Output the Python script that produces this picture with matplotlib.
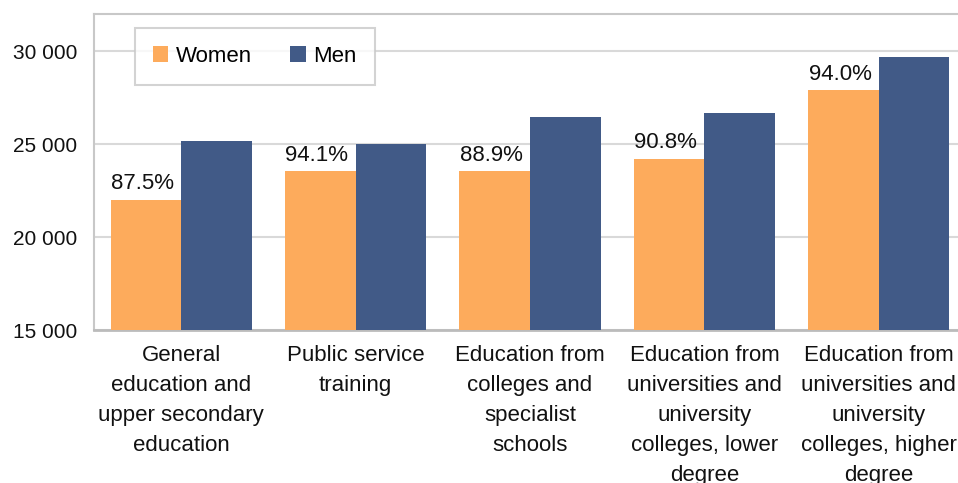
import numpy as np
import matplotlib.pyplot as plt

plt.rcParams['font.family'] = ['Liberation Sans', 'DejaVu Sans']

categories = [
    'General\neducation and\nupper secondary\neducation',
    'Public service\ntraining',
    'Education from\ncolleges and\nspecialist\nschools',
    'Education from\nuniversities and\nuniversity\ncolleges, lower\ndegree',
    'Education from\nuniversities and\nuniversity\ncolleges, higher\ndegree',
]
women = [22000, 23530, 23530, 24200, 27900]
men = [25150, 25000, 26470, 26650, 29680]
ratio_labels = ['87.5%', '94.1%', '88.9%', '90.8%', '94.0%']

c_women = '#FDAB5C'
c_men = '#415A87'

fig = plt.figure(figsize=(9.58, 4.83), dpi=100)
ax = fig.add_axes([94/958, 153/483, 872/958, 316/483])

x = np.arange(len(categories))
w = 0.405
ax.bar(x - w/2, women, w, color=c_women, label='Women', zorder=3)
ax.bar(x + w/2, men, w, color=c_men, label='Men', zorder=3)

for xi, v, s in zip(x, women, ratio_labels):
    ax.text(xi - w/2 - 0.02, v + 300, s, ha='center', va='bottom', fontsize=16, color='#111111')

ax.set_xlim(-0.5, len(categories) - 0.5)
ax.set_ylim(15000, 32000)
ax.set_yticks([15000, 20000, 25000, 30000])
ax.set_yticklabels(['15 000', '20 000', '25 000', '30 000'])
ax.set_xticks(x)
ax.set_xticklabels(categories, linespacing=1.56)
ax.tick_params(axis='both', length=0, colors='#111111')
ax.tick_params(axis='y', pad=12, labelsize=15)
ax.tick_params(axis='x', pad=11, labelsize=16)

ax.grid(axis='y', color='#D9D9D9', linewidth=1.5, zorder=0)
for side in ['top', 'left', 'right']:
    ax.spines[side].set_color('#C8C8C8')
    ax.spines[side].set_linewidth(1.5)
ax.spines['bottom'].set_color('#BBBBBB')
ax.spines['bottom'].set_linewidth(2)

leg = ax.legend(loc='upper left', bbox_to_anchor=(41/872, 1 - 14/316), ncol=2,
                fontsize=16, frameon=True, fancybox=False, handlelength=0.7,
                handleheight=0.7, columnspacing=1.7, handletextpad=0.35,
                borderpad=0.8, borderaxespad=0)
leg.get_frame().set_edgecolor('#C8C8C8')
leg.get_frame().set_linewidth(1.5)

fig.savefig('out.png', dpi=100)
